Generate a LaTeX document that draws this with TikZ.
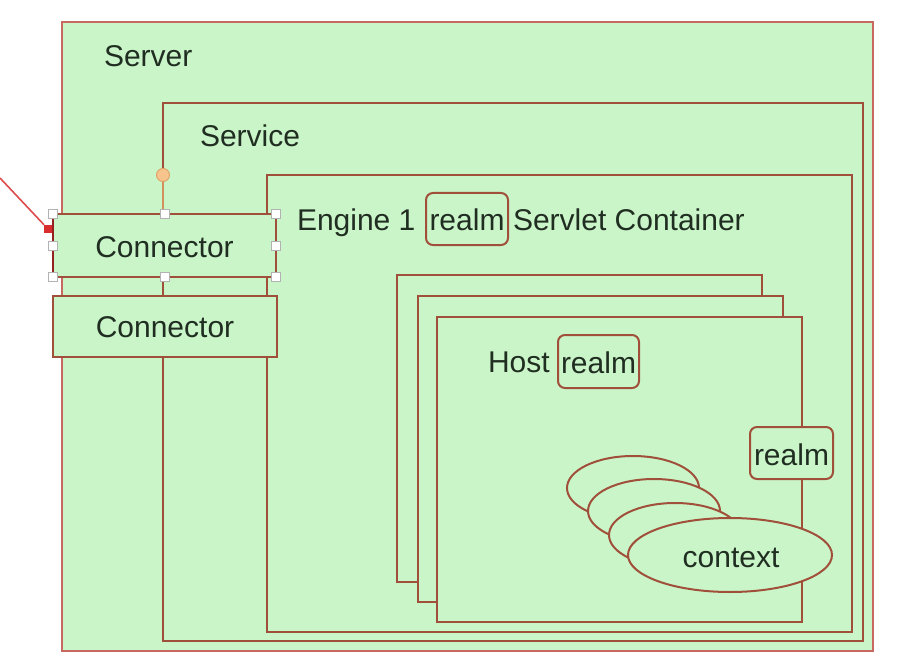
\documentclass[tikz,border=0pt]{standalone}
\usepackage{fontspec}
\setmainfont{Liberation Sans}
\usetikzlibrary{shapes.geometric}
\definecolor{fillg}{RGB}{202,245,200}
\definecolor{brd}{RGB}{160,80,58}
\definecolor{srvbrd}{RGB}{200,105,95}
\definecolor{txt}{RGB}{32,46,34}
\definecolor{orng}{RGB}{246,196,140}
\definecolor{orngd}{RGB}{222,160,100}
\definecolor{arrred}{RGB}{215,45,45}
\begin{document}
\begin{tikzpicture}[x=1pt,y=-1pt,
  box/.style={draw=brd,line width=2.4pt,fill=fillg,rectangle,inner sep=0pt,outer sep=0pt},
  lbl/.style={text=txt,font=\fontsize{30}{35}\selectfont,inner sep=0pt,outer sep=0pt},
  realmbox/.style={draw=brd,line width=2pt,fill=fillg,rounded corners=7pt,rectangle,inner sep=0pt},
  ctxell/.style={draw=brd,line width=2pt,fill=fillg,ellipse,inner sep=0pt},
  handle/.style={draw=gray!60,fill=white,rectangle,minimum size=9pt,inner sep=0pt,line width=0.9pt}
]
\useasboundingbox (0,0) rectangle (901,668);
\fill[white] (0,0) rectangle (901,668);

% containers
\node[box,draw=srvbrd,minimum width=811pt,minimum height=629pt] (server) at (467.5,336.5) {};
\node[box,minimum width=700pt,minimum height=538pt] (service) at (513,372) {};
\node[box,minimum width=585pt,minimum height=457pt] (engine) at (559.5,403.5) {};
\node[box,minimum width=365pt,minimum height=307pt] (host1) at (579.5,428.5) {};
\node[box,minimum width=365pt,minimum height=306pt] (host2) at (600.5,449) {};
\node[box,minimum width=365pt,minimum height=305pt] (host3) at (619.5,469.5) {};

% labels
\node[lbl,anchor=base west] (serverlbl) at (104,67) {Server};
\node[lbl,anchor=base west] (servicelbl) at (200,147) {Service};
\node[lbl,anchor=base west] (enginelbl) at (297,230) {Engine 1};
\node[realmbox,minimum width=82pt,minimum height=52pt] (realmE) at (467,219) {};
\node[lbl,anchor=base] (realmElbl) at (467,230) {realm};
\node[lbl,anchor=base west] (servletlbl) at (513,230) {Servlet Container};

\node[lbl,anchor=base west] (hostlbl) at (488,372) {Host};
\node[realmbox,minimum width=81pt,minimum height=53pt] (realmH) at (598.5,361.5) {};
\node[lbl,anchor=base] (realmHlbl) at (598.5,373) {realm};

\node[realmbox,minimum width=83pt,minimum height=52pt] (realmR) at (791.5,453) {};
\node[lbl,anchor=base] (realmRlbl) at (791.5,465) {realm};

% contexts
\node[ctxell,minimum width=132pt,minimum height=64pt] (ctx1) at (633,488) {};
\node[ctxell,minimum width=132pt,minimum height=64pt] (ctx2) at (654,511) {};
\node[ctxell,minimum width=132pt,minimum height=64pt] (ctx3) at (675,535) {};
\node[ctxell,minimum width=204pt,minimum height=74pt] (ctx4) at (730,555) {};
\node[lbl,anchor=base] (ctxlbl) at (731,567) {context};

% connectors
\node[box,line width=2.8pt,minimum width=223pt,minimum height=63pt] (conn1) at (164.5,245.5) {};
\node[lbl,anchor=base] (conn1lbl) at (164.5,257) {Connector};
\node[box,minimum width=224pt,minimum height=61pt] (conn2) at (165,326.5) {};
\node[lbl,anchor=base] (conn2lbl) at (165,337) {Connector};

% service port
\node[circle,draw=orngd,fill=orng,line width=0.9pt,minimum size=13pt,inner sep=0pt] (port) at (163,175) {};
\draw[fillg,line width=3pt] (port.south) -- (port.south |- conn1.north);
\draw[orngd!80!brd,line width=1.5pt] (port.south) -- (port.south |- conn1.north);

% selection of connector
\draw[arrred!70!black,line width=2.2pt] (conn1.north west) -- (conn1.south west);
\foreach \a/\n in {north west/nw,north/n,north east/ne,west/w,east/e,south west/sw,south/s,south east/se}
  \node[handle] (h\n) at (conn1.\a) {};

% red pointer
\coordinate (redstart) at (0,178);
\node[fill=arrred,rectangle,minimum size=8pt,inner sep=0pt] (redtip) at (48,229) {};
\draw[arrred!85,line width=1.6pt] (redstart) -- (redtip);
\end{tikzpicture}
\end{document}
